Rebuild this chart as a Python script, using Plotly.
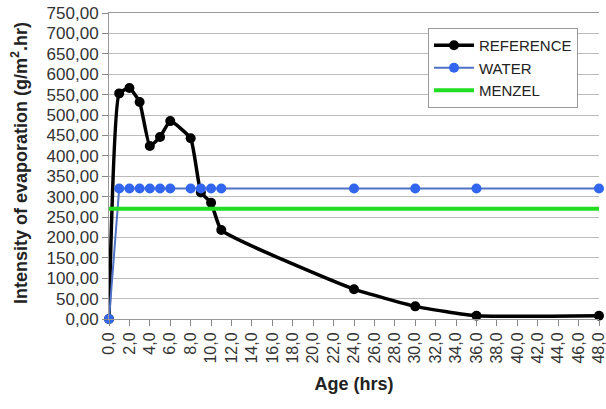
import plotly.graph_objects as go

ref_x = [0, 1, 2, 3, 4, 5, 6, 8, 9, 10, 11, 24, 30, 36, 48]
ref_y = [0, 553, 566, 532, 424, 446, 485, 443, 310, 285, 218, 73, 31, 8, 8]

water_x = [0, 1, 2, 3, 4, 5, 6, 8, 9, 10, 11, 24, 30, 36, 48]
water_y = [0, 320, 320, 320, 320, 320, 320, 320, 320, 320, 320, 320, 320, 320, 320]

menzel_x = [0, 48]
menzel_y = [270, 270]

x_ticks = list(range(0, 49, 2))
y_ticks = list(range(0, 751, 50))

FONT = "Liberation Sans, Arial, sans-serif"

fig = go.Figure()
fig.add_trace(go.Scatter(x=ref_x, y=ref_y, name="REFERENCE", mode="lines+markers",
                         line=dict(color="black", width=3.5, shape="spline", smoothing=0.4),
                         marker=dict(color="black", size=10), cliponaxis=False))
fig.add_trace(go.Scatter(x=water_x, y=water_y, name="WATER", mode="lines+markers",
                         line=dict(color="#4f72c4", width=2),
                         marker=dict(color="#3366ee", size=10), cliponaxis=False))
fig.add_trace(go.Scatter(x=menzel_x, y=menzel_y, name="MENZEL", mode="lines",
                         line=dict(color="#22dd22", width=4)))

fig.update_layout(
    width=606, height=409,
    margin=dict(l=109, r=7, t=13, b=90),
    paper_bgcolor="white", plot_bgcolor="white",
    separators=",.",
    font=dict(family=FONT, color="#333333", size=15),
    showlegend=True,
    legend=dict(x=0.651, y=0.951, xanchor="left", yanchor="top",
                bordercolor="#999999", borderwidth=1, bgcolor="white",
                font=dict(size=15, color="#222222"), itemwidth=40,
                tracegroupgap=0),
    annotations=[dict(text="<b>Intensity of evaporation (g/m<sup>2</sup>.hr)</b>",
                      xref="paper", yref="paper", x=-89/490, y=0.51,
                      xanchor="center", yanchor="middle", textangle=-90,
                      showarrow=False, font=dict(size=18, color="#222222"))],
)
fig.update_xaxes(range=[0, 48], tickvals=x_ticks, tickformat=".1f", tickangle=-90,
                 ticks="outside", ticklen=6, tickcolor="#888888",
                 showgrid=False, showline=True, linecolor="#999999", mirror=True,
                 zeroline=False, tickfont=dict(size=16, color="#333333"),
                 automargin=False, ticklabeloverflow="allow",
                 title=dict(text="<b>Age (hrs)</b>", font=dict(size=18, color="#222222"), standoff=14))
fig.update_yaxes(range=[0, 750], tickvals=y_ticks, tickformat=".2f",
                 ticks="outside", ticklen=6, tickcolor="#888888",
                 showgrid=True, gridcolor="#bbbbbb", gridwidth=1,
                 showline=True, linecolor="#999999", zeroline=False,
                 automargin=False,
                 tickfont=dict(size=17, color="#333333"))

fig.write_html("out.html", config={"displayModeBar": False},
               post_script="document.body.style.margin='0px';document.body.style.overflow='hidden';")
